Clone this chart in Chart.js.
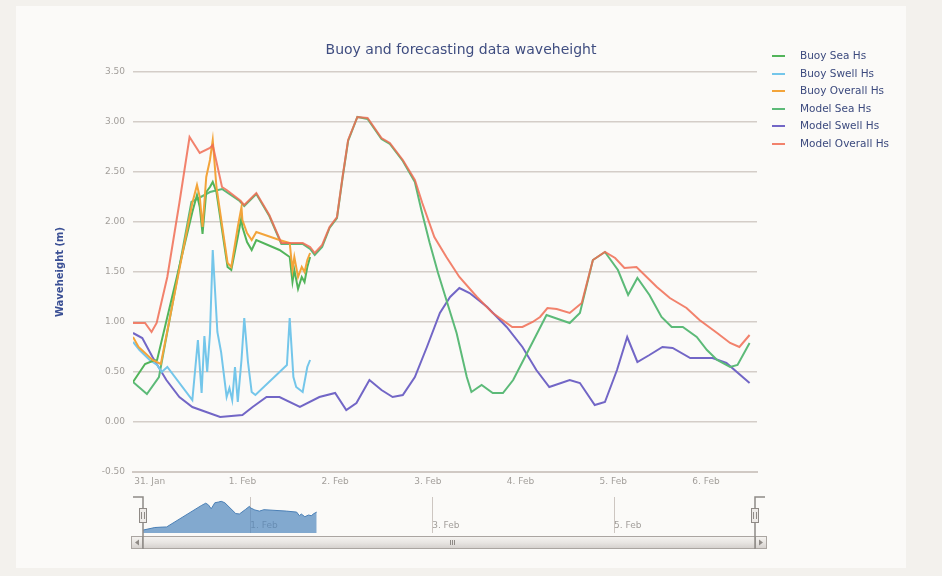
<!DOCTYPE html>
<html>
<head>
<meta charset="utf-8">
<script src="https://cdn.jsdelivr.net/npm/chart.js@4.4.1/dist/chart.umd.min.js"></script>
<style>
  html, body { margin: 0; padding: 0; }
  body { width: 942px; height: 576px; background: #f3f1ed; position: relative; overflow: hidden; font-family: "DejaVu Sans", sans-serif; }
  #panel { position: absolute; left: 16px; top: 6px; width: 890px; height: 562px; background: #fbfaf8; }
  #mainChart { position: absolute; left: 0; top: 0; }
  #navChart { position: absolute; left: 0; top: 488px; }
  #title { position: absolute; left: 0; width: 922px; top: 41px; text-align: center; font-size: 14px; color: #3f4d80; }
  #legend { position: absolute; left: 772px; top: 47px; font-size: 10.5px; color: #3c4a7e; }
  #legend .item { height: 17.6px; line-height: 17.6px; white-space: nowrap; }
  #legend .mark { display: inline-block; width: 13px; height: 2px; vertical-align: middle; margin-right: 15px; }
</style>
</head>
<body>
<div id="panel"></div>
<canvas id="mainChart" width="942" height="492"></canvas>
<canvas id="navChart" width="942" height="70"></canvas>
<div id="title">Buoy and forecasting data waveheight</div>
<div id="legend"></div>
<script>
// x values are days counted from 31 Jan 00:00
const dayTicks = [0, 1, 2, 3, 4, 5, 6];
const dayLabels = ["31. Jan", "1. Feb", "2. Feb", "3. Feb", "4. Feb", "5. Feb", "6. Feb"];
const navTicks = [1, 3, 5];
const navLabels = ["1. Feb", "3. Feb", "5. Feb"];

const buoySeaDays = [-0.18, -0.05, 0.03, 0.08, 0.46, 0.51, 0.54, 0.57, 0.61, 0.65, 0.68, 0.72, 0.84, 0.88, 0.95, 0.99, 1.00, 1.05, 1.10, 1.15, 1.40, 1.51, 1.54, 1.56, 1.60, 1.64, 1.67, 1.70, 1.73];
const buoySea = [0.40, 0.58, 0.61, 0.62, 2.10, 2.27, 2.15, 1.88, 2.30, 2.35, 2.40, 2.30, 1.55, 1.52, 1.85, 2.05, 1.95, 1.80, 1.72, 1.82, 1.72, 1.65, 1.40, 1.52, 1.33, 1.45, 1.40, 1.55, 1.65];

const buoySwellDays = [-0.18, -0.11, 0.00, 0.08, 0.13, 0.19, 0.46, 0.52, 0.56, 0.59, 0.62, 0.65, 0.68, 0.73, 0.77, 0.83, 0.86, 0.89, 0.92, 0.95, 0.99, 1.02, 1.06, 1.10, 1.14, 1.48, 1.51, 1.55, 1.58, 1.65, 1.70, 1.73];
const buoySwell = [0.80, 0.72, 0.62, 0.57, 0.50, 0.55, 0.22, 0.82, 0.29, 0.86, 0.50, 0.88, 1.72, 0.90, 0.70, 0.25, 0.34, 0.22, 0.55, 0.20, 0.62, 1.04, 0.60, 0.30, 0.27, 0.57, 1.04, 0.45, 0.35, 0.30, 0.55, 0.62];

const buoyOverallDays = [-0.18, -0.12, -0.05, 0.03, 0.12, 0.46, 0.51, 0.54, 0.57, 0.61, 0.65, 0.68, 0.72, 0.84, 0.88, 0.95, 0.99, 1.00, 1.05, 1.10, 1.15, 1.40, 1.51, 1.54, 1.56, 1.60, 1.64, 1.67, 1.70, 1.73];
const buoyOverall = [0.85, 0.75, 0.69, 0.62, 0.58, 2.19, 2.37, 2.25, 1.95, 2.45, 2.62, 2.82, 2.35, 1.59, 1.55, 1.95, 2.15, 2.02, 1.89, 1.82, 1.90, 1.82, 1.79, 1.52, 1.65, 1.45, 1.55, 1.50, 1.62, 1.69];

const modelSeaDays = [-0.18, -0.03, 0.10, 0.45, 0.65, 0.78, 0.97, 1.02, 1.15, 1.29, 1.42, 1.65, 1.73, 1.78, 1.86, 1.94, 2.02, 2.08, 2.14, 2.24, 2.35, 2.50, 2.59, 2.73, 2.86, 2.93, 3.02, 3.11, 3.20, 3.31, 3.42, 3.47, 3.58, 3.70, 3.81, 3.92, 4.07, 4.28, 4.53, 4.64, 4.78, 4.91, 5.05, 5.16, 5.26, 5.39, 5.52, 5.63, 5.75, 5.90, 6.01, 6.12, 6.26, 6.34, 6.47];
const modelSea = [0.40, 0.28, 0.45, 2.20, 2.30, 2.33, 2.21, 2.16, 2.28, 2.06, 1.78, 1.78, 1.73, 1.67, 1.75, 1.94, 2.04, 2.44, 2.81, 3.05, 3.03, 2.83, 2.78, 2.61, 2.40, 2.12, 1.79, 1.49, 1.22, 0.89, 0.45, 0.30, 0.37, 0.29, 0.29, 0.42, 0.69, 1.07, 0.99, 1.09, 1.62, 1.70, 1.52, 1.27, 1.44, 1.27, 1.05, 0.95, 0.95, 0.85, 0.72, 0.62, 0.55, 0.57, 0.79];

const modelSwellDays = [-0.18, -0.08, 0.03, 0.18, 0.32, 0.46, 0.61, 0.76, 1.00, 1.11, 1.26, 1.40, 1.62, 1.83, 2.00, 2.12, 2.23, 2.37, 2.50, 2.62, 2.73, 2.86, 2.99, 3.13, 3.24, 3.34, 3.45, 3.64, 3.85, 4.02, 4.17, 4.31, 4.53, 4.64, 4.80, 4.91, 5.04, 5.15, 5.26, 5.39, 5.53, 5.64, 5.83, 6.07, 6.22, 6.47];
const modelSwell = [0.89, 0.84, 0.65, 0.42, 0.25, 0.15, 0.10, 0.05, 0.07, 0.15, 0.25, 0.25, 0.15, 0.25, 0.29, 0.12, 0.19, 0.42, 0.32, 0.25, 0.27, 0.45, 0.75, 1.09, 1.25, 1.34, 1.29, 1.15, 0.95, 0.75, 0.52, 0.35, 0.42, 0.39, 0.17, 0.20, 0.52, 0.85, 0.60, 0.67, 0.75, 0.74, 0.64, 0.64, 0.59, 0.39];

const modelOverallDays = [-0.18, -0.05, 0.02, 0.075, 0.19, 0.32, 0.43, 0.54, 0.65, 0.68, 0.78, 0.83, 0.97, 1.02, 1.15, 1.29, 1.42, 1.65, 1.73, 1.78, 1.86, 1.94, 2.02, 2.08, 2.14, 2.24, 2.35, 2.50, 2.59, 2.73, 2.86, 2.94, 3.07, 3.20, 3.34, 3.53, 3.70, 3.91, 4.02, 4.13, 4.21, 4.29, 4.39, 4.53, 4.66, 4.78, 4.91, 5.02, 5.12, 5.25, 5.47, 5.61, 5.79, 5.93, 6.12, 6.26, 6.36, 6.47];
const modelOverall = [0.99, 0.99, 0.90, 0.99, 1.45, 2.19, 2.85, 2.69, 2.74, 2.77, 2.35, 2.32, 2.22, 2.17, 2.29, 2.07, 1.79, 1.79, 1.75, 1.69, 1.77, 1.95, 2.05, 2.45, 2.82, 3.05, 3.04, 2.84, 2.79, 2.62, 2.42, 2.19, 1.85, 1.65, 1.45, 1.25, 1.09, 0.95, 0.95, 1.00, 1.05, 1.14, 1.13, 1.09, 1.19, 1.62, 1.70, 1.64, 1.54, 1.55, 1.35, 1.24, 1.14, 1.02, 0.89, 0.79, 0.75, 0.87];

const xMin = -0.18, xMax = 6.55;

Chart.defaults.font.family = '"DejaVu Sans", sans-serif';

function points(days, vals) {
    return days.map((d, i) => ({ x: d, y: vals[i] }));
}

function series(label, days, vals, color, order) {
    return { label: label, data: points(days, vals), borderColor: color, backgroundColor: color, order: order };
}

const datasets = [
    series("Buoy Sea Hs", buoySeaDays, buoySea, "#52b45a", 3),
    series("Buoy Swell Hs", buoySwellDays, buoySwell, "#74c6ea", 4),
    series("Buoy Overall Hs", buoyOverallDays, buoyOverall, "#f3a43a", 2),
    series("Model Sea Hs", modelSeaDays, modelSea, "#5cba78", 5),
    series("Model Swell Hs", modelSwellDays, modelSwell, "#7266c6", 6),
    series("Model Overall Hs", modelOverallDays, modelOverall, "rgba(240,108,84,0.85)", 1)
];

new Chart(document.getElementById("mainChart"), {
    type: "line",
    data: { datasets: datasets },
    options: {
        responsive: false,
        animation: false,
        layout: { padding: { left: 50, right: 185, top: 72, bottom: 0 } },
        plugins: { legend: { display: false }, tooltip: { enabled: false } },
        elements: { point: { radius: 0 }, line: { borderWidth: 2, tension: 0 } },
        scales: {
            x: {
                type: "linear",
                min: xMin,
                max: xMax,
                afterBuildTicks: s => { s.ticks = dayTicks.map(v => ({ value: v })); },
                afterFit: s => { s.height = 20; },
                grid: { display: false, drawTicks: false },
                border: { display: true, color: "#d0c9c4", width: 2 },
                ticks: {
                    callback: (v, i) => dayLabels[i],
                    color: "#a29e9a",
                    font: { size: 9 },
                    padding: 4,
                    maxRotation: 0,
                    autoSkip: false
                }
            },
            y: {
                min: -0.5,
                max: 3.5,
                afterFit: s => { s.width = 83; },
                grid: { color: "#d4cdc8", lineWidth: 1.5, drawTicks: false },
                border: { display: false },
                ticks: {
                    stepSize: 0.5,
                    callback: v => v.toFixed(2),
                    color: "#a29e9a",
                    font: { size: 9 },
                    padding: 8
                },
                title: {
                    display: true,
                    text: "Waveheight (m)",
                    color: "#3a4f94",
                    font: { size: 10, weight: "bold" },
                    padding: 4
                }
            }
        }
    }
});

// handles, outline and scrollbar of the navigator
const navigatorDecor = {
    id: "navigatorDecor",
    afterDraw(chart) {
        const { ctx, chartArea: a } = chart;
        ctx.save();

        // scrollbar track
        const sy = a.bottom + 3, sh = 13, sl = a.left - 12, sr = a.right + 12;
        const g = ctx.createLinearGradient(0, sy, 0, sy + sh);
        g.addColorStop(0, "#f6f4f2");
        g.addColorStop(0.5, "#e8e5e2");
        g.addColorStop(1, "#d2cecb");
        ctx.fillStyle = g;
        ctx.fillRect(sl, sy, sr - sl, sh);
        ctx.strokeStyle = "#aaa5a1";
        ctx.lineWidth = 1;
        ctx.strokeRect(sl + 0.5, sy + 0.5, sr - sl - 1, sh - 1);
        // buttons
        [[sl, 1], [sr - 12, -1]].forEach(([bx, dir]) => {
            ctx.strokeRect(bx + 0.5, sy + 0.5, 11, sh - 1);
            ctx.fillStyle = "#8f8a86";
            ctx.beginPath();
            const cx = bx + 6, cy = sy + sh / 2;
            ctx.moveTo(cx - 2 * dir, cy);
            ctx.lineTo(cx + 2 * dir, cy - 3);
            ctx.lineTo(cx + 2 * dir, cy + 3);
            ctx.closePath();
            ctx.fill();
        });
        // grip
        const gx = (a.left + a.right) / 2 + 3;
        ctx.strokeStyle = "#8f8a86";
        ctx.beginPath();
        [-2, 0, 2].forEach(o => {
            ctx.moveTo(gx + o + 0.5, sy + 4);
            ctx.lineTo(gx + o + 0.5, sy + sh - 4);
        });
        ctx.stroke();

        // outline
        ctx.lineWidth = 1.5;
        ctx.beginPath();
        ctx.moveTo(a.left - 10, a.top);
        ctx.lineTo(a.left, a.top);
        ctx.lineTo(a.left, sy + sh);
        ctx.moveTo(a.right + 10, a.top);
        ctx.lineTo(a.right, a.top);
        ctx.lineTo(a.right, sy + sh);
        ctx.stroke();

        // handles
        const hy = a.top + 11, hh = 15;
        [a.left, a.right].forEach(x => {
            ctx.fillStyle = "#eeebe8";
            ctx.fillRect(x - 4, hy, 8, hh);
            ctx.lineWidth = 1;
            ctx.strokeRect(x - 4 + 0.5, hy + 0.5, 7, hh - 1);
            ctx.beginPath();
            ctx.moveTo(x - 1.5, hy + 4);
            ctx.lineTo(x - 1.5, hy + hh - 4);
            ctx.moveTo(x + 1.5, hy + 4);
            ctx.lineTo(x + 1.5, hy + hh - 4);
            ctx.stroke();
        });
        ctx.restore();
    }
};

new Chart(document.getElementById("navChart"), {
    type: "line",
    data: {
        datasets: [{
            label: "Buoy Sea Hs",
            data: points(buoySeaDays, buoySea),
            borderColor: "#4a7fb5",
            backgroundColor: "rgba(78,134,190,0.7)",
            borderWidth: 1,
            fill: "start"
        }]
    },
    options: {
        responsive: false,
        animation: false,
        layout: { padding: { left: 143, right: 187, top: 9, bottom: 25 } },
        plugins: { legend: { display: false }, tooltip: { enabled: false } },
        elements: { point: { radius: 0 }, line: { tension: 0 } },
        scales: {
            x: {
                type: "linear",
                min: xMin,
                max: xMax,
                afterBuildTicks: s => { s.ticks = navTicks.map(v => ({ value: v })); },
                afterFit: s => { s.height = 0; },
                grid: { color: "#cdc6c1", lineWidth: 1, drawTicks: false },
                border: { display: false },
                ticks: {
                    callback: (v, i) => navLabels[i],
                    align: "start",
                    mirror: true,
                    color: "#a29e9a",
                    font: { size: 9 },
                    padding: 2,
                    maxRotation: 0,
                    autoSkip: false
                }
            },
            y: { display: false, min: 0.2, max: 2.7 }
        }
    },
    plugins: [navigatorDecor]
});

// legend in the top right corner
const legend = document.getElementById("legend");
datasets.forEach(ds => {
    const item = document.createElement("div");
    item.className = "item";
    const mark = document.createElement("span");
    mark.className = "mark";
    mark.style.background = ds.borderColor;
    item.appendChild(mark);
    item.appendChild(document.createTextNode(ds.label));
    legend.appendChild(item);
});
</script>
</body>
</html>
